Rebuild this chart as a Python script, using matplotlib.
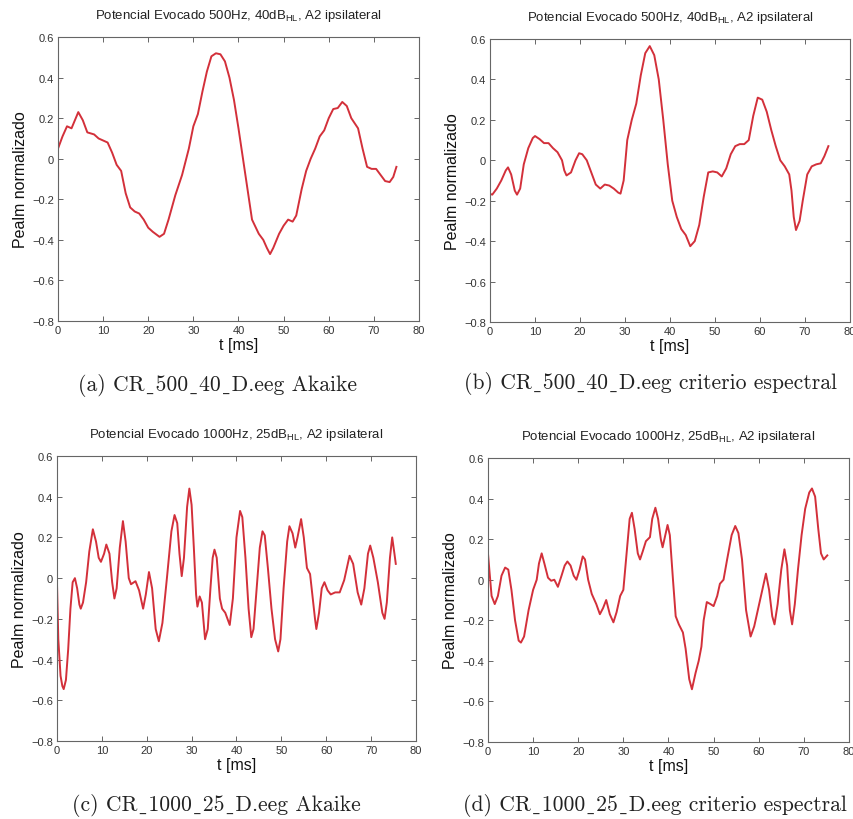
import numpy as np
import matplotlib as mpl
mpl.use('Agg')
import matplotlib.pyplot as plt

# Panel (a): CR_500_40_D.eeg Akaike
t_a = [0, 1, 2, 3, 4.5, 5.5, 6.5, 8, 9, 10, 11, 12, 13, 14, 15, 16, 17, 18, 19, 20,
       21, 22.5, 23.5, 24.5, 26, 27.5, 29, 30, 31, 32, 33, 34, 35, 36, 37, 38, 39, 40,
       41, 42, 43, 44.5, 45.5, 46.3, 47, 47.7, 49, 50, 51, 52, 52.8, 54, 55, 56, 57,
       58, 59, 60, 61, 62, 63, 64, 65, 66.5, 67.5, 68.5, 69.5, 70.5, 71.5, 72.5, 73.5,
       74.3, 75]
v_a = [0.05, 0.11, 0.16, 0.15, 0.23, 0.19, 0.13, 0.12, 0.1, 0.09, 0.08, 0.03, -0.03,
       -0.06, -0.17, -0.24, -0.26, -0.27, -0.3, -0.34, -0.36, -0.385, -0.37, -0.3,
       -0.18, -0.08, 0.05, 0.16, 0.22, 0.33, 0.43, 0.505, 0.52, 0.515, 0.48, 0.4, 0.29,
       0.15, 0.0, -0.15, -0.3, -0.37, -0.4, -0.44, -0.47, -0.44, -0.37, -0.33, -0.3,
       -0.31, -0.28, -0.15, -0.06, 0.0, 0.05, 0.11, 0.14, 0.2, 0.245, 0.25, 0.28, 0.26,
       0.2, 0.15, 0.05, -0.04, -0.05, -0.05, -0.08, -0.11, -0.115, -0.09, -0.04]

# Panel (b): CR_500_40_D.eeg criterio espectral
t_b = [0, 0.5, 1.5, 2.5, 3.5, 4, 4.7, 5.5, 6, 6.7, 7.5, 8.5, 9.5, 10, 11, 12, 13, 14,
       15, 16, 16.5, 17, 18, 19, 19.8, 20.5, 21.5, 22.5, 23.5, 24.5, 25.5, 26.5, 27.5,
       28.5, 29, 29.7, 30.5, 31.5, 32.5, 33.5, 34.5, 35.5, 36.5, 37.5, 38.5, 39.5, 40.5,
       41.5, 42.5, 43.5, 44.5, 45.5, 46.5, 47.5, 48.5, 49.5, 50.5, 51.5, 52.5, 53.5,
       54.5, 55.5, 56.5, 57.5, 58.5, 59.5, 60.5, 61.5, 62.5, 63.5, 64.5, 65.5, 66.5, 67,
       67.5, 68, 68.8, 69.5, 70.5, 71.5, 72.5, 73.5, 74.3, 75.2]
v_b = [-0.166, -0.17, -0.14, -0.1, -0.05, -0.035, -0.07, -0.15, -0.17, -0.14, -0.02,
       0.06, 0.11, 0.12, 0.105, 0.085, 0.085, 0.06, 0.04, 0.0, -0.05, -0.075, -0.06, 0.0,
       0.035, 0.03, 0.0, -0.06, -0.12, -0.14, -0.12, -0.125, -0.14, -0.16, -0.165, -0.1,
       0.1, 0.2, 0.28, 0.42, 0.53, 0.565, 0.52, 0.4, 0.2, -0.02, -0.2, -0.28, -0.34,
       -0.37, -0.425, -0.4, -0.32, -0.18, -0.06, -0.055, -0.06, -0.08, -0.04, 0.03, 0.07,
       0.08, 0.08, 0.1, 0.22, 0.31, 0.3, 0.24, 0.15, 0.07, 0.0, -0.03, -0.07, -0.15,
       -0.28, -0.345, -0.3, -0.2, -0.07, -0.03, -0.02, -0.015, 0.02, 0.07]

# Panel (c): CR_1000_25_D.eeg Akaike
t_c = [0, 0.3, 0.8, 1.2, 1.5, 2, 2.5, 3, 3.5, 4, 4.5, 5, 5.3, 5.8, 6.5, 7.2, 8, 8.7,
       9.3, 9.8, 10.5, 11, 11.7, 12.3, 12.8, 13.3, 14, 14.7, 15.3, 16, 16.5, 17.5, 18.3,
       19.2, 19.8, 20.5, 21.2, 22, 22.7, 23.5, 24.5, 25.5, 26.2, 26.8, 27.3, 27.8, 28.3,
       29, 29.5, 30, 30.5, 31, 31.3, 31.8, 32.3, 33, 33.6, 34.2, 34.7, 35.1, 35.6, 36.3,
       36.8, 37.5, 38.5, 39.2, 40, 40.8, 41.3, 42, 42.7, 43.3, 43.8, 44.5, 45.2, 45.8,
       46.3, 47, 47.8, 48.6, 49.3, 49.8, 50.5, 51.3, 51.8, 52.5, 53.1, 53.6, 54.4, 55,
       55.7, 56.4, 57, 57.5, 57.8, 58.4, 59, 59.6, 60.3, 61, 62, 63, 64, 65.2, 66, 67,
       67.8, 68.5, 69.3, 69.8, 70.5, 71.5, 72.5, 73, 73.5, 74.2, 74.7, 75.2, 75.5]
v_c = [-0.02, -0.3, -0.48, -0.53, -0.545, -0.5, -0.35, -0.15, -0.02, 0.0, -0.05, -0.13,
       -0.15, -0.12, -0.02, 0.13, 0.24, 0.18, 0.1, 0.08, 0.12, 0.165, 0.12, -0.02, -0.1,
       -0.05, 0.15, 0.28, 0.18, 0.0, -0.03, -0.015, -0.06, -0.15, -0.08, 0.03, -0.05,
       -0.25, -0.31, -0.22, 0.0, 0.23, 0.31, 0.27, 0.12, 0.01, 0.1, 0.35, 0.44, 0.36,
       0.15, -0.08, -0.14, -0.09, -0.12, -0.3, -0.25, -0.05, 0.1, 0.14, 0.1, -0.1, -0.15,
       -0.17, -0.23, -0.1, 0.2, 0.33, 0.3, 0.1, -0.15, -0.29, -0.25, -0.05, 0.15, 0.23,
       0.21, 0.05, -0.15, -0.3, -0.36, -0.3, -0.05, 0.18, 0.255, 0.22, 0.15, 0.2, 0.29,
       0.2, 0.05, 0.02, -0.1, -0.2, -0.25, -0.17, -0.05, -0.02, -0.06, -0.08, -0.07,
       -0.07, -0.01, 0.11, 0.07, -0.07, -0.13, -0.05, 0.12, 0.16, 0.1, -0.02, -0.17,
       -0.2, -0.12, 0.1, 0.2, 0.12, 0.07]

# Panel (d): CR_1000_25_D.eeg criterio espectral
t_d = [0, 0.3, 0.8, 1.5, 2.2, 3, 3.8, 4.5, 5.2, 6, 6.8, 7.3, 8, 9, 10, 10.8, 11.3,
       11.9, 12.5, 13.3, 14, 14.7, 15.5, 16.3, 17, 17.6, 18.3, 19, 19.6, 20.3, 21, 21.5,
       22.2, 23, 24, 24.8, 25.5, 26.2, 27, 27.8, 28.5, 29.3, 30, 30.6, 31.4, 31.9, 32.5,
       33.2, 33.7, 34.3, 35, 35.9, 36.4, 37.1, 37.7, 38.3, 38.7, 39.3, 39.8, 40.3, 41,
       41.6, 42.3, 43.2, 43.8, 44.6, 45.2, 46, 46.7, 47.3, 47.8, 48.5, 49.3, 50, 50.8,
       51.4, 52.2, 53, 54, 54.8, 55.5, 56.3, 57.2, 58.2, 59, 60, 60.8, 61.6, 62.3, 63,
       63.5, 64.2, 65, 65.7, 66.3, 66.9, 67.4, 68, 68.7, 69.5, 70.3, 71.2, 71.8, 72.5,
       73.2, 73.8, 74.4, 75.2]
v_d = [0.13, 0.05, -0.08, -0.12, -0.08, 0.02, 0.06, 0.05, -0.05, -0.2, -0.3, -0.31,
       -0.28, -0.15, -0.05, 0.0, 0.08, 0.13, 0.08, 0.01, -0.005, 0.0, -0.035, 0.02, 0.07,
       0.09, 0.07, 0.02, 0.0, 0.05, 0.115, 0.1, 0.0, -0.07, -0.12, -0.17, -0.14, -0.1,
       -0.17, -0.21, -0.16, -0.08, -0.05, 0.1, 0.3, 0.33, 0.25, 0.13, 0.1, 0.14, 0.19,
       0.21, 0.3, 0.355, 0.3, 0.2, 0.16, 0.22, 0.27, 0.22, 0.0, -0.18, -0.22, -0.26,
       -0.34, -0.49, -0.54, -0.46, -0.4, -0.33, -0.2, -0.11, -0.12, -0.13, -0.08, -0.02,
       0.0, 0.1, 0.22, 0.265, 0.23, 0.1, -0.15, -0.28, -0.23, -0.13, -0.05, 0.03, -0.05,
       -0.18, -0.22, -0.12, 0.05, 0.15, 0.07, -0.15, -0.22, -0.12, 0.05, 0.22, 0.35,
       0.43, 0.45, 0.41, 0.25, 0.13, 0.1, 0.12]

titles = ['Potencial Evocado 500Hz, 40dB$_{\\mathregular{HL}}$, A2 ipsilateral',
          'Potencial Evocado 500Hz, 40dB$_{\\mathregular{HL}}$, A2 ipsilateral',
          'Potencial Evocado 1000Hz, 25dB$_{\\mathregular{HL}}$, A2 ipsilateral',
          'Potencial Evocado 1000Hz, 25dB$_{\\mathregular{HL}}$, A2 ipsilateral']
# cmr10 has no real underscore, so the low line comes from the fallback serif font
US = '\u02cd'
captions = ['(a) CR' + US + '500' + US + '40' + US + 'D.eeg Akaike',
            '(b) CR' + US + '500' + US + '40' + US + 'D.eeg criterio espectral',
            '(c) CR' + US + '1000' + US + '25' + US + 'D.eeg Akaike',
            '(d) CR' + US + '1000' + US + '25' + US + 'D.eeg criterio espectral']
x_ticks = [0, 10, 20, 30, 40, 50, 60, 70, 80]
y_ticks = [-0.8, -0.6, -0.4, -0.2, 0, 0.2, 0.4, 0.6]
y_ticklabels = ['\u22120.8', '\u22120.6', '\u22120.4', '\u22120.2', '0', '0.2', '0.4', '0.6']

plt.rcParams['font.family'] = ['Liberation Sans', 'DejaVu Sans']

fig = plt.figure(figsize=(8.54, 8.2), dpi=100)
positions = [[0.0679, 0.6073, 0.4227, 0.3463],
             [0.5738, 0.6061, 0.4215, 0.3451],
             [0.0667, 0.0951, 0.4204, 0.3476],
             [0.5714, 0.0939, 0.4227, 0.3463]]
caption_xy = [(218, 386), (651, 384), (216, 806), (655, 806)]
series = [(t_a, v_a), (t_b, v_b), (t_c, v_c), (t_d, v_d)]

for i in range(4):
    ax = fig.add_axes(positions[i])
    t, v = series[i]
    ax.plot(t, v, color='#d3303a', lw=1.4)
    ax.set_xlim(0, 80)
    ax.set_ylim(-0.8, 0.6)
    ax.set_xticks(x_ticks)
    ax.set_yticks(y_ticks)
    ax.set_yticklabels(y_ticklabels)
    ax.tick_params(direction='in', top=True, right=True, length=3.5, width=0.7,
                   labelsize=8, labelcolor='#333333', color='#666666', pad=3)
    for s in ax.spines.values():
        s.set_color('#666666')
        s.set_linewidth(0.8)
    ax.set_title(titles[i], fontsize=9.5, pad=14, color='#222222')
    ax.set_xlabel('t [ms]', fontsize=11.5, labelpad=1, color='#111111')
    ax.set_ylabel('Pealm normalizado', fontsize=11.5, labelpad=3, color='#111111')
    cx, cy = caption_xy[i]
    fig.text(cx / 854, 1 - cy / 820, captions[i], ha='center', va='center',
             fontsize=15.6, family=['cmr10', 'DejaVu Serif'], color='#222222')

plt.savefig('out.png', dpi=100)
